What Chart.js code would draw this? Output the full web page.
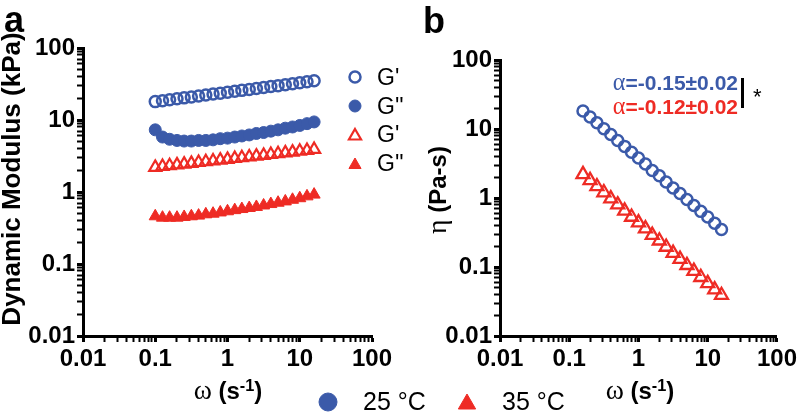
<!DOCTYPE html>
<html>
<head>
<meta charset="utf-8">
<script src="https://cdn.jsdelivr.net/npm/chart.js@4.4.0/dist/chart.umd.min.js"></script>
<style>
  body { margin: 0; background: #fff; width: 800px; height: 412px; overflow: hidden; position: relative;
         font-family: "Liberation Sans", Arial, sans-serif; color: #000; }
  .panel { position: absolute; top: 0; width: 400px; height: 412px; }
  .t { position: absolute; white-space: nowrap; line-height: 1; }
  .b { font-weight: bold; }
  .serif { font-family: "Liberation Serif", "DejaVu Serif", serif; font-weight: normal; }
  .om { font-size: 1.15em; }
  .sup { position: relative; top: -0.5em; font-size: 0.68em; }
  .mid { transform: translate(-50%, -50%); }
  .rot { transform: translate(-50%, -50%) rotate(-90deg); }
</style>
</head>
<body>
<div class="panel" style="left:0"><canvas id="chartA" width="400" height="412"></canvas></div>
<div class="panel" style="left:400px"><canvas id="chartB" width="400" height="412"></canvas></div>

<!-- panel letters -->
<div class="t b" style="left:4px;top:2px;font-size:36px">a</div>
<div class="t b" style="left:423px;top:3px;font-size:36px">b</div>

<!-- axis titles -->
<div class="t b rot" style="left:11px;top:179px;font-size:26px">Dynamic Modulus (kPa)</div>
<div class="t b mid" style="left:228px;top:390px;font-size:24px"><span class="serif om">ω</span> (s<span class="sup">-1</span>)</div>
<div class="t b rot" style="left:437px;top:190px;font-size:24px"><span class="serif om">η</span> (Pa-s)</div>
<div class="t b mid" style="left:640px;top:390px;font-size:24px"><span class="serif om">ω</span> (s<span class="sup">-1</span>)</div>

<!-- panel a legend text -->
<div class="t" style="left:377px;top:77px;font-size:23px;transform:translateY(-50%)">G'</div>
<div class="t" style="left:377px;top:106px;font-size:23px;transform:translateY(-50%)">G''</div>
<div class="t" style="left:377px;top:134px;font-size:23px;transform:translateY(-50%)">G'</div>
<div class="t" style="left:377px;top:163px;font-size:23px;transform:translateY(-50%)">G''</div>

<!-- panel b annotations -->
<div class="t b" style="right:62px;top:82px;font-size:21px;color:#3b5aa9;transform:translateY(-50%)"><span class="serif om">α</span>=-0.15±0.02</div>
<div class="t b" style="right:62px;top:106px;font-size:21px;color:#ee2b24;transform:translateY(-50%)"><span class="serif om">α</span>=-0.12±0.02</div>
<div style="position:absolute;left:741px;top:78px;width:3px;height:30px;background:#000"></div>
<div class="t" style="left:753px;top:86px;font-size:22px">*</div>

<!-- temperature legend text -->
<div class="t" style="left:363px;top:401px;font-size:25px;transform:translateY(-50%)">25 °C</div>
<div class="t" style="left:502px;top:401px;font-size:25px;transform:translateY(-50%)">35 °C</div>

<script>
'use strict';

// frequency sweep, panel a (rad/s)
const omegaA = [0.1, 0.126, 0.158, 0.2, 0.251, 0.316, 0.398, 0.501, 0.631, 0.794, 1, 1.26, 1.58, 2, 2.51, 3.16, 3.98, 5.01, 6.31, 7.94, 10, 12.6, 15.8];
// moduli (kPa)
const storage25 = [18, 18.5, 19.1, 19.7, 20.3, 20.9, 21.6, 22.2, 22.9, 23.6, 24.3, 25, 25.8, 26.6, 27.4, 28.3, 29.1, 30, 30.9, 31.9, 32.9, 33.9, 35];
const loss25 = [7.3, 5.8, 5.4, 5.2, 5.1, 5.1, 5.2, 5.2, 5.3, 5.5, 5.6, 5.8, 6.0, 6.2, 6.5, 6.7, 7.0, 7.3, 7.7, 8.0, 8.4, 8.9, 9.4];
const storage35 = [2.2, 2.26, 2.32, 2.38, 2.44, 2.5, 2.57, 2.63, 2.7, 2.77, 2.84, 2.92, 2.99, 3.07, 3.15, 3.23, 3.32, 3.4, 3.49, 3.58, 3.68, 3.77, 3.9];
const loss35 = [0.46, 0.44, 0.44, 0.44, 0.45, 0.46, 0.47, 0.49, 0.5, 0.52, 0.54, 0.56, 0.58, 0.6, 0.62, 0.65, 0.68, 0.71, 0.74, 0.78, 0.82, 0.87, 0.92];

// panel b, viscosity (Pa-s)
const omegaB = [0.158, 0.2, 0.251, 0.316, 0.398, 0.501, 0.631, 0.794, 1, 1.26, 1.58, 2, 2.51, 3.16, 3.98, 5.01, 6.31, 7.94, 10, 12.6, 15.8];
const eta25 = [18.2, 14.9, 12.3, 10.1, 8.3, 6.8, 5.6, 4.6, 3.8, 3.1, 2.5, 2.1, 1.7, 1.4, 1.16, 0.95, 0.78, 0.64, 0.53, 0.43, 0.35];
const eta35 = [2.2, 1.8, 1.47, 1.2, 0.98, 0.8, 0.65, 0.53, 0.44, 0.36, 0.29, 0.24, 0.195, 0.159, 0.13, 0.106, 0.087, 0.071, 0.058, 0.047, 0.039];

const decades = [0.01, 0.1, 1, 10, 100];
const decadeLabels = ['0.01', '0.1', '1', '10', '100'];

const BLUE = '#3b5aa9';
const RED = '#ee2b24';
const NONE = 'rgba(0,0,0,0)';

function pairs(xs, ys) {
  return xs.map((x, i) => ({ x: x, y: ys[i] }));
}

// major + minor ticks on every decade
function logTicks(scale) {
  const ticks = [];
  decades.forEach((d, i) => {
    ticks.push({ value: d, major: true });
    if (i < decades.length - 1) {
      for (let m = 2; m < 10; m++) ticks.push({ value: d * m, major: false });
    }
  });
  scale.ticks = ticks;
}

function logAxis(isX, size) {
  return {
    type: 'logarithmic',
    min: 0.01,
    max: 100,
    afterBuildTicks: logTicks,
    afterFit: function (s) {
      if (isX) s.height = size; else s.width = size;
    },
    border: { color: '#000', width: 3 },
    grid: {
      drawOnChartArea: false,
      drawTicks: true,
      tickLength: 6,
      tickColor: '#000',
      tickWidth: c => (c.tick && c.tick.major ? 3 : 2)
    },
    ticks: {
      autoSkip: false,
      maxRotation: 0,
      minRotation: 0,
      padding: isX ? 3 : 2,
      color: '#000',
      font: { family: '"Liberation Sans", Arial, sans-serif', size: 24, weight: 'bold' },
      callback: function (v) {
        const i = decades.indexOf(v);
        return i >= 0 ? decadeLabels[i] : '';
      }
    }
  };
}

// draws legend symbols, styled like the dataset they stand for
const legendMarks = {
  id: 'legendMarks',
  afterDraw(chart, args, opts) {
    const ctx = chart.ctx;
    (opts.items || []).forEach(it => {
      const ds = it.ds !== undefined ? chart.data.datasets[it.ds] : it;
      ctx.save();
      ctx.fillStyle = ds.backgroundColor;
      ctx.strokeStyle = ds.borderColor;
      ctx.lineWidth = ds.borderWidth;
      Chart.helpers.drawPoint(ctx, {
        pointStyle: ds.pointStyle,
        radius: it.radius || ds.pointRadius,
        borderWidth: ds.borderWidth,
        rotation: 0
      }, it.x, it.y);
      ctx.restore();
    });
  }
};

function scatterSet(label, data, color, style, filled, radius, bw) {
  return {
    label: label,
    data: data,
    pointStyle: style,
    pointRadius: radius,
    borderWidth: bw,
    borderColor: color,
    backgroundColor: filled ? color : NONE,
    showLine: false
  };
}

new Chart(document.getElementById('chartA'), {
  type: 'scatter',
  data: {
    datasets: [
      scatterSet("G' 25", pairs(omegaA, storage25), BLUE, 'circle', false, 5.5, 2.5),
      scatterSet("G'' 25", pairs(omegaA, loss25), BLUE, 'circle', true, 6, 1),
      scatterSet("G' 35", pairs(omegaA, storage35), RED, 'triangle', false, 7, 2.2),
      scatterSet("G'' 35", pairs(omegaA, loss35), RED, 'triangle', true, 7, 1)
    ]
  },
  options: {
    responsive: false,
    animation: false,
    devicePixelRatio: 1,
    layout: { padding: { left: 0, top: 48, right: 28, bottom: 0 } },
    scales: {
      x: logAxis(true, 76),
      y: logAxis(false, 83)
    },
    plugins: {
      legend: { display: false },
      tooltip: { enabled: false },
      legendMarks: {
        items: [
          { ds: 0, x: 355, y: 77 },
          { ds: 1, x: 355, y: 106 },
          { ds: 2, x: 355, y: 136 },
          { ds: 3, x: 355, y: 165 },
          { x: 328, y: 402, radius: 9, pointStyle: 'circle', backgroundColor: BLUE, borderColor: BLUE, borderWidth: 1 }
        ]
      }
    }
  },
  plugins: [legendMarks]
});

new Chart(document.getElementById('chartB'), {
  type: 'scatter',
  data: {
    datasets: [
      scatterSet('25 °C', pairs(omegaB, eta25), BLUE, 'circle', false, 5.5, 2.5),
      scatterSet('35 °C', pairs(omegaB, eta35), RED, 'triangle', false, 7.5, 2.3)
    ]
  },
  options: {
    responsive: false,
    animation: false,
    devicePixelRatio: 1,
    layout: { padding: { left: 0, top: 60, right: 20, bottom: 0 } },
    scales: {
      x: logAxis(true, 76),
      y: logAxis(false, 100)
    },
    plugins: {
      legend: { display: false },
      tooltip: { enabled: false },
      legendMarks: {
        items: [
          { x: 67, y: 404, radius: 10, pointStyle: 'triangle', backgroundColor: RED, borderColor: RED, borderWidth: 1 }
        ]
      }
    }
  },
  plugins: [legendMarks]
});
</script>
</body>
</html>
